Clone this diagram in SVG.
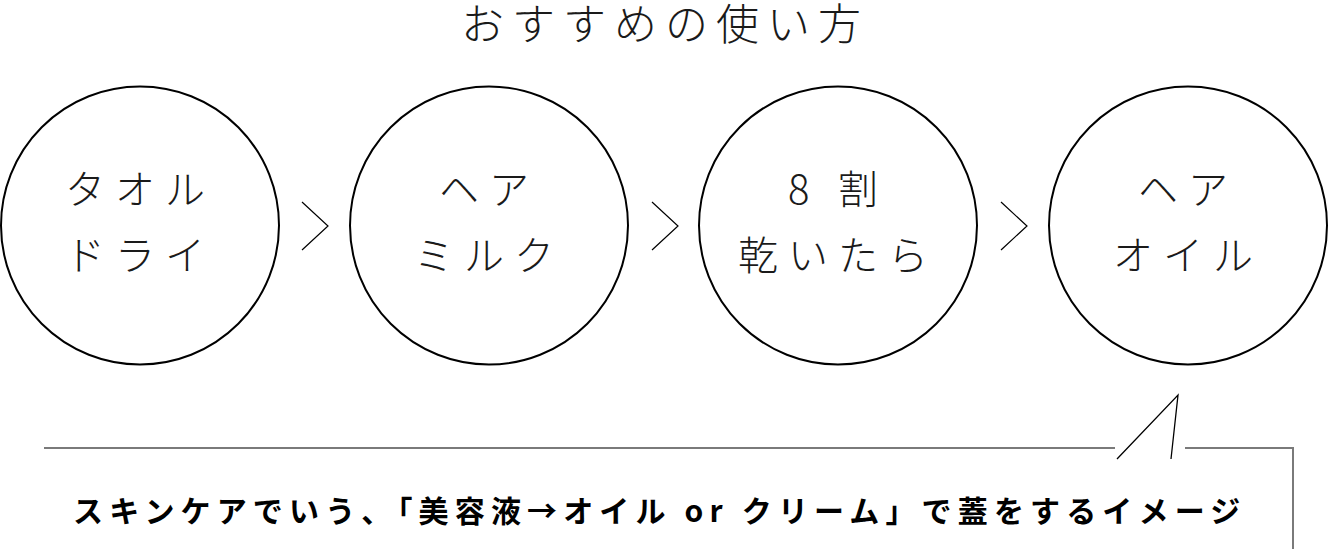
<svg xmlns="http://www.w3.org/2000/svg" width="1328" height="549" viewBox="0 0 1328 549">
<style>
.bg{fill:#ffffff}
.node circle{fill:#ffffff;stroke:#000000;stroke-width:2}
.lbl{font-family:"Noto Sans CJK JP","Noto Sans",sans-serif;font-size:40px;font-weight:300;letter-spacing:10px;fill:#1a1a1a;text-anchor:middle}
.title{font-family:"Noto Sans CJK JP","Noto Sans",sans-serif;font-size:43px;font-weight:300;letter-spacing:8px;fill:#1a1a1a;text-anchor:middle}
.chev{fill:none;stroke:#000000;stroke-width:1.2}
.bub{fill:none;stroke:#7a7a7a;stroke-width:2}
.tail{fill:none;stroke:#000000;stroke-width:1.3}
.note{font-family:"Noto Sans CJK JP","Noto Sans",sans-serif;font-size:30px;font-weight:700;letter-spacing:6.15px;fill:#000000}
</style>
<rect class="bg" width="1328" height="549"/>
<text class="title" x="665" y="40">おすすめの使い方</text>
<g id="node1" class="node">
<circle cx="140" cy="225.5" r="139"/>
<text class="lbl" x="140" y="204">タオル</text>
<text class="lbl" x="140" y="270">ドライ</text>
</g>
<g id="node2" class="node">
<circle cx="489" cy="225.5" r="139"/>
<text class="lbl" x="489" y="204">ヘア</text>
<text class="lbl" x="489" y="270">ミルク</text>
</g>
<g id="node3" class="node">
<circle cx="838" cy="225.5" r="139"/>
<text class="lbl" x="838" y="204">8 割</text>
<text class="lbl" x="838" y="270">乾いたら</text>
</g>
<g id="node4" class="node">
<circle cx="1188" cy="225.5" r="139"/>
<text class="lbl" x="1188" y="204">ヘア</text>
<text class="lbl" x="1188" y="270">オイル</text>
</g>
<g id="connectors">
<polyline class="chev" points="302,202 328,226 302,250"/>
<polyline class="chev" points="652,202 678,226 652,250"/>
<polyline class="chev" points="1001,202 1027,226 1001,250"/>
</g>
<g id="bubble">
<polyline class="bub" points="44,448 1115,448"/>
<polyline class="bub" points="1185,448 1293,448 1293,549"/>
<polyline class="tail" points="1117,459 1178,395 1171,459"/>
<text class="note" x="73" y="522">スキンケアでいう、「美容液→オイル or クリーム」で蓋をするイメージ</text>
</g>
</svg>
